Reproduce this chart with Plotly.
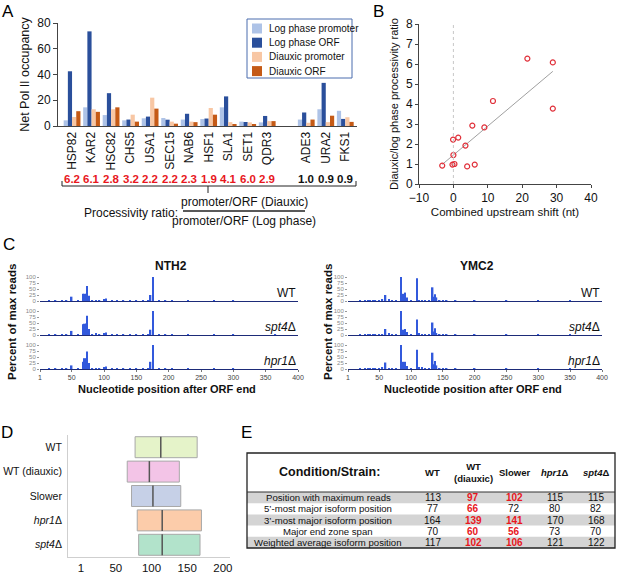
import numpy as np
import plotly.graph_objects as go

W, H = 617, 574
FONT = "Liberation Sans, Arial, sans-serif"

# ---- A: net Pol II occupancy ----
GENES = ["HSP82", "KAR2", "HSC82", "CHS5", "USA1", "SEC15", "NAB6",
         "HSF1", "SLA1", "SET1", "QDR3", "ADE3", "URA2", "FKS1"]
LOG_PROMOTER = [4.4, 14.5, 8.5, 4.4, 6, 6.2, 5, 5.4, 14.5, 3.4, 2.8, 5, 13, 11.8]
LOG_ORF = [42.5, 73.5, 25.5, 5, 7.3, 4.9, 9.5, 5.8, 23, 3.1, 7.8, 10.5, 33.5, 5.5]
DIAUXIC_PROMOTER = [7, 13, 13, 8.8, 22, 3.4, 3.4, 14, 3, 2.8, 3.8, 2.5, 3, 6.8]
DIAUXIC_ORF = [11.5, 11, 14.5, 3.4, 13.5, 1.8, 3, 8.8, 1.4, 0.8, 3.8, 5, 8, 3.2]
RATIOS = ["6.2", "6.1", "2.8", "3.2", "2.2", "2.2", "2.3", "1.9", "4.1", "6.0", "2.9",
          "1.0", "0.9", "0.9"]
N_SHIFTED = 11  # first genes (red ratios), the rest are controls

# ---- B: processivity ratio vs upstream shift ----
SHIFT = [-3.25, -0.27, 0.3, 0.0, -0.1, 1.4, 3.5, 4.0, 6.2, 5.5, 9.0, 11.5, 21.5, 28.9, 28.9]
PROC_RATIO = [0.92, 0.97, 1.0, 1.45, 2.22, 2.32, 1.92, 0.88, 0.97, 2.92, 2.83, 4.15, 6.27, 6.08, 3.77]

# ---- C: read end positions ----
NTH2_POS = [15, 25, 35, 42, 50, 60, 68, 70, 72, 74, 77, 82, 88, 93, 100, 103, 112, 120,
            130, 140, 150, 160, 168, 172, 176, 185, 195, 205, 230, 270, 300, 365]
NTH2_WT = [1, 1, 2, 2, 18, 2, 30, 30, 30, 62, 22, 3, 4, 3, 8, 10, 2, 2,
           2, 1, 2, 1, 2, 25, 100, 2, 2, 2, 1, 2, 1, 0]
NTH2_SPT4 = [1, 2, 2, 1, 17, 2, 45, 47, 48, 80, 25, 3, 5, 3, 5, 10, 3, 2,
             2, 2, 2, 1, 2, 22, 100, 3, 2, 2, 1, 2, 1, 3]
NTH2_HPR1 = [1, 1, 2, 2, 15, 2, 30, 45, 45, 73, 25, 3, 4, 3, 5, 10, 2, 2,
             2, 2, 2, 1, 2, 30, 100, 2, 2, 1, 1, 1, 1, 0]

YMC2_POS = [20, 28, 32, 36, 40, 44, 50, 55, 60, 65, 70, 76, 84, 88, 91, 94, 100, 109,
            113, 117, 122, 128, 134, 136, 138, 140, 145, 150, 156, 170, 200, 250, 300, 350]
YMC2_WT = [1, 4, 4, 4, 4, 3, 2, 8, 25, 5, 2, 4, 100, 30, 35, 15, 2, 95,
           4, 4, 3, 2, 57, 18, 28, 15, 3, 2, 3, 1, 1, 1, 1, 1]
YMC2_SPT4 = [1, 2, 2, 2, 2, 1, 2, 4, 25, 5, 2, 3, 100, 22, 25, 12, 2, 65,
             5, 4, 2, 2, 52, 15, 28, 8, 3, 2, 2, 1, 1, 1, 1, 1]
YMC2_HPR1 = [1, 3, 3, 3, 3, 2, 2, 5, 27, 4, 2, 3, 100, 30, 30, 12, 2, 80,
             6, 5, 3, 2, 68, 20, 33, 15, 3, 2, 2, 1, 1, 1, 1, 1]
C_ROWS = ["WT", "<i>spt4</i>Δ", "<i>hpr1</i>Δ"]

# ---- D/E: end zone summary ----
STRAINS = ["WT", "WT (diauxic)", "Slower", "<i>hpr1</i>Δ", "<i>spt4</i>Δ"]
STRAIN_HEAD = ["WT", "WT<br>(diauxic)", "Slower", "<i>hpr1</i>Δ", "<i>spt4</i>Δ"]
MAX_READS = [113, 97, 102, 115, 115]
FIVE_PRIME = [77, 66, 72, 80, 82]
THREE_PRIME = [164, 139, 141, 170, 168]
ZONE_SPAN = [70, 60, 56, 73, 70]
WEIGHTED_AVG = [117, 102, 106, 121, 122]
ROW_LABELS = ["Position with maximum reads", "5’-most major isoform position",
              "3’-most major isoform position", "Major end zone span",
              "Weighted average isoform position"]
# cells printed in red (one list of row flags per strain column)
RED_CELLS = [[0, 0, 0, 0, 0], [1, 1, 1, 1, 1], [1, 0, 1, 1, 1], [0, 0, 0, 0, 0], [0, 0, 0, 0, 0]]
BOX_COLORS = ["#e5f3c9", "#f3c4e7", "#c6d0e7", "#fcccaa", "#b2e3cb"]


def xd(a, b):
    return [a / W, b / W]


def yd(top, bottom):
    return [1 - bottom / H, 1 - top / H]


def fx(x):
    return x / W


def fy(y):
    return 1 - y / H


fig = go.Figure()
layout = {}
annots = []
shapes = []


def text(x, y, s, size=12, color="#111", xanchor="center", yanchor="middle", angle=0, xref="paper"):
    annots.append(dict(x=x if xref != "paper" else fx(x), y=fy(y), xref=xref, yref="paper", text=s,
                       showarrow=False, xanchor=xanchor, yanchor=yanchor, textangle=angle,
                       font=dict(size=size, color=color, family=FONT)))


def line(x0, y0, x1, y1, color="#222", width=1, dash=None):
    shapes.append(dict(type="line", xref="paper", yref="paper", x0=fx(x0), y0=fy(y0),
                       x1=fx(x1), y1=fy(y1), line=dict(color=color, width=width, dash=dash)))


def rect(x0, y0, x1, y1, fill=None, color=None, width=0, layer="above"):
    shapes.append(dict(type="rect", xref="paper", yref="paper", layer=layer,
                       x0=fx(x0), x1=fx(x1), y0=fy(y1), y1=fy(y0), fillcolor=fill,
                       line=dict(color=color, width=width)))


# panel letters
for letter, (lx, ly) in zip("ABCDE", [(0, 0), (371, 0), (1, 233), (-1, 421), (239, 421)]):
    text(lx, ly, letter, size=17, color="#000", xanchor="left", yanchor="top")

# ---- A ----
gene_x = [i + (1 if i >= N_SHIFTED else 0) for i in range(len(GENES))]
a_series = [("Log phase promoter", LOG_PROMOTER, "#aec3e7"),
            ("Log phase ORF", LOG_ORF, "#2a4f9b"),
            ("Diauxic promoter", DIAUXIC_PROMOTER, "#f8c7a4"),
            ("Diauxic ORF", DIAUXIC_ORF, "#c55a16")]
for name, vals, col in a_series:
    fig.add_trace(go.Bar(x=gene_x, y=vals, name=name, marker_color=col, marker_line_width=0,
                         showlegend=False, xaxis="x", yaxis="y"))

# legend box drawn by hand (plotly's legend rows are too tall here)
rect(247, 19, 352, 78, fill="white", color="#4b6cae", width=1)
for k, (name, _, col) in enumerate(a_series):
    cy = 28.5 + 14.2 * k
    rect(252, cy - 5, 262, cy + 5, fill=col)
    text(267, cy, name, size=10, xanchor="left")

layout["xaxis"] = dict(domain=xd(58, 357), anchor="y", range=[-0.72, 14.6],
                       tickvals=gene_x, ticktext=GENES, tickangle=-90,
                       tickfont=dict(size=12, color="#111"), showline=True,
                       linecolor="#444", linewidth=1, ticks="", showgrid=False, zeroline=False)
layout["yaxis"] = dict(domain=yd(23, 126), anchor="x", range=[0, 80], dtick=20,
                       ticks="outside", ticklen=4, tickcolor="#444", showline=True,
                       linecolor="#444", tickfont=dict(size=12, color="#111"),
                       title=dict(text="Net Pol II occupancy", font=dict(size=12.5, color="#111"),
                                  standoff=4),
                       showgrid=False, zeroline=False)

for i, (gx, r) in enumerate(zip(gene_x, RATIOS)):
    col = "#e8171d" if i < N_SHIFTED else "#111"
    text(gx, 179, f"<b>{r}</b>", size=11.5, color=col, xref="x")

# brace and ratio definition
line(62, 181, 62, 186)
line(62, 186, 356, 186)
line(356, 181, 356, 186)
line(208, 186, 208, 193)
text(180, 213, "Processivity ratio:", size=12, xanchor="right")
line(183, 211, 305, 211, width=1.3)
text(244, 202, "promoter/ORF (Diauxic)", size=12)
text(244, 221, "promoter/ORF (Log phase)", size=12)

# ---- B ----
shapes.append(dict(type="line", xref="x2", yref="y2", x0=0, x1=0, y0=0, y1=8,
                   line=dict(color="#c8c8c8", width=1, dash="dot")))
slope, icpt = np.polyfit(SHIFT, PROC_RATIO, 1)
fit_x = np.array([min(SHIFT), max(SHIFT)])
fig.add_trace(go.Scatter(x=fit_x, y=slope * fit_x + icpt, mode="lines",
                         line=dict(color="#a0a0a0", width=1), showlegend=False,
                         xaxis="x2", yaxis="y2"))
fig.add_trace(go.Scatter(x=SHIFT, y=PROC_RATIO, mode="markers", showlegend=False,
                         marker=dict(symbol="circle-open", size=5, color="#e0303a",
                                     line=dict(width=1.2)),
                         xaxis="x2", yaxis="y2"))
layout["xaxis2"] = dict(domain=xd(419, 591), anchor="y2", range=[-10, 40], dtick=10,
                        ticks="outside", ticklen=3, tickcolor="#444", showline=True,
                        linecolor="#444", tickfont=dict(size=12, color="#111"),
                        title=dict(text="Combined upstream shift (nt)",
                                   font=dict(size=11.5, color="#111"), standoff=3),
                        showgrid=False, zeroline=False)
layout["yaxis2"] = dict(domain=yd(24, 184), anchor="x2", range=[0, 8], dtick=1,
                        ticks="outside", ticklen=3, tickcolor="#444", showline=True,
                        linecolor="#444", tickfont=dict(size=12, color="#111"),
                        title=dict(text="Diauxic/log phase processivity ratio",
                                   font=dict(size=11, color="#111"), standoff=5),
                        showgrid=False, zeroline=False)

# ---- C ----
row_tops = [277, 311, 345]
c_genes = [("NTH2", NTH2_POS, [NTH2_WT, NTH2_SPT4, NTH2_HPR1], (40, 298), 12),
           ("YMC2", YMC2_POS, [YMC2_WT, YMC2_SPT4, YMC2_HPR1], (348, 602), 328)]
ax = 3
for gname, pos, rows, (x0, x1), ytx in c_genes:
    text((x0 + x1) / 2 + 2, 266, f"<b>{gname}</b>", size=12)
    text(ytx, 322, "<b>Percent of max reads</b>", size=11.5, angle=-90)
    text((x0 + x1) / 2 - 2, 389, "<b>Nucleotide position after ORF end</b>", size=11)
    for r, (vals, top, lab) in enumerate(zip(rows, row_tops, C_ROWS)):
        fig.add_trace(go.Bar(x=pos, y=vals, width=2.3, showlegend=False,
                             marker=dict(color="#3259dc", line=dict(width=0)),
                             xaxis=f"x{ax}", yaxis=f"y{ax}"))
        last = r == len(rows) - 1
        layout[f"xaxis{ax}"] = dict(domain=xd(x0, x1), anchor=f"y{ax}", range=[1, 400],
                                    tickvals=[1, 50, 100, 150, 200, 250, 300, 350, 400],
                                    showticklabels=last, ticks="outside" if last else "",
                                    ticklen=2, tickcolor="#777",
                                    tickfont=dict(size=7, color="#444"), showline=True,
                                    linecolor="#1d2b78", linewidth=1, showgrid=False,
                                    zeroline=False)
        layout[f"yaxis{ax}"] = dict(domain=yd(top, top + 24), anchor=f"x{ax}", range=[0, 100],
                                    tickvals=[0, 25, 50, 75, 100], ticks="outside", ticklen=2,
                                    tickcolor="#999", tickfont=dict(size=6, color="#888"),
                                    showline=False, showgrid=False, zeroline=False)
        text(x1, top + 16, lab, size=12, xanchor="right")
        ax += 1

# ---- D ----
strain_idx = list(range(len(STRAINS)))
BOX_W = 0.86
fig.add_trace(go.Bar(y=strain_idx, x=np.array(THREE_PRIME) - np.array(FIVE_PRIME),
                     base=FIVE_PRIME, orientation="h", width=BOX_W, showlegend=False,
                     marker=dict(color=BOX_COLORS, line=dict(color="#a8a8a8", width=1)),
                     xaxis="x9", yaxis="y9"))
med_x, med_y = [], []
for i, m in zip(strain_idx, MAX_READS):
    med_x += [m, m, None]
    med_y += [i - BOX_W / 2, i + BOX_W / 2, None]
fig.add_trace(go.Scatter(x=med_x, y=med_y, mode="lines", showlegend=False,
                         line=dict(color="#555", width=1.5), xaxis="x9", yaxis="y9"))
layout["xaxis9"] = dict(domain=xd(68, 230), anchor="y9", range=[-17, 210],
                        tickvals=[1, 50, 100, 150, 200], ticks="", showline=True,
                        linecolor="#cfcfcf", tickfont=dict(size=11.5, color="#111"),
                        showgrid=False, zeroline=False)
layout["yaxis9"] = dict(domain=yd(435, 557), anchor="x9", range=[4.5, -0.5],
                        tickvals=strain_idx, ticktext=STRAINS, ticks="",
                        ticklabelstandoff=3, showline=True, linecolor="#cfcfcf",
                        tickfont=dict(size=10.5, color="#111"), showgrid=False, zeroline=False)

for k in list(layout):
    layout[k]["automargin"] = False

# ---- E: summary table ----
T_LEFT, T_RIGHT, T_TOP, HEAD_BOTTOM, ROW_H = 247, 615, 453, 492, 11.2
label_cx = 330
col_cx = [433, 473, 514, 555, 596]
for i in range(len(ROW_LABELS)):
    if i % 2 == 0:
        rect(T_LEFT, HEAD_BOTTOM + ROW_H * i, T_RIGHT, HEAD_BOTTOM + ROW_H * (i + 1),
             fill="#d4d4d4", layer="below")
rect(T_LEFT, T_TOP, T_RIGHT, HEAD_BOTTOM + ROW_H * len(ROW_LABELS), color="#222", width=1.3)
line(T_LEFT, HEAD_BOTTOM, T_RIGHT, HEAD_BOTTOM, color="#333", width=1)

text(label_cx, 472, "<b>Condition/Strain:</b>", size=12.5)
for cx, head in zip(col_cx, STRAIN_HEAD):
    text(cx, 472, f"<b>{head}</b>", size=9.5)
for i, lab in enumerate(ROW_LABELS):
    text(label_cx - 2, HEAD_BOTTOM + ROW_H * (i + 0.5), lab, size=9.6)
columns = [MAX_READS, FIVE_PRIME, THREE_PRIME, ZONE_SPAN, WEIGHTED_AVG]
for k, cx in enumerate(col_cx):
    for i, col_vals in enumerate(columns):
        red = RED_CELLS[k][i]
        s = f"<b>{col_vals[k]}</b>" if red else str(col_vals[k])
        text(cx, HEAD_BOTTOM + ROW_H * (i + 0.5), s, size=10,
             color="#e8171d" if red else "#111")

fig.update_layout(
    width=W, height=H, margin=dict(l=0, r=0, t=0, b=0),
    paper_bgcolor="white", plot_bgcolor="white",
    font=dict(family=FONT, size=12, color="#111"),
    barmode="group", bargap=0.14, bargroupgap=0.0, showlegend=False,
    annotations=annots, shapes=shapes,
    **layout,
)

# page body has a default 8px margin; drop it so the figure sits at the window corner
fig.write_html("out.html", config={"displayModeBar": False},
               post_script="document.body.style.margin='0';")
